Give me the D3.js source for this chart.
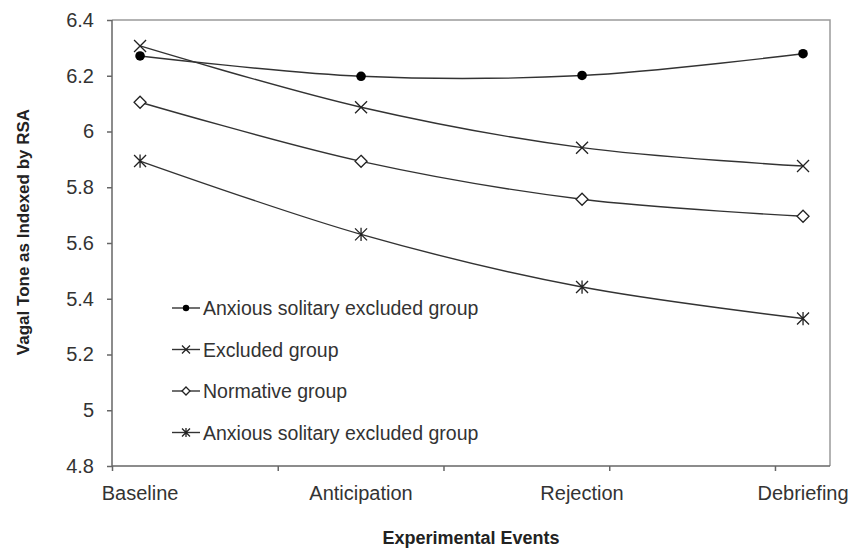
<!DOCTYPE html>
<html>
<head>
<meta charset="utf-8">
<script src="https://cdn.jsdelivr.net/npm/d3@7"></script>
<style>
  body { margin: 0; background: #fff; overflow: hidden; }
  svg { font-family: "Liberation Sans", Arial, sans-serif; display: block; }
</style>
</head>
<body>
<div id="chart"></div>
<script>
const categories = ["Baseline", "Anticipation", "Rejection", "Debriefing"];
const anxiousDot = [6.271, 6.198, 6.201, 6.279];
const excluded = [6.307, 6.087, 5.942, 5.876];
const normative = [6.105, 5.893, 5.757, 5.696];
const anxiousStar = [5.894, 5.631, 5.442, 5.329];
const seriesNames = [
  "Anxious solitary excluded group",
  "Excluded group",
  "Normative group",
  "Anxious solitary excluded group"
];
const yTicks = [4.8, 5, 5.2, 5.4, 5.6, 5.8, 6, 6.2, 6.4];
const xTickValues = [0.873, 1.623, 2.373, 3.123, 3.873];

const width = 850, height = 550;
const margins = { top: 20, right: 20, bottom: 84, left: 112 };
const innerWidth = width - margins.left - margins.right;
const innerHeight = height - margins.top - margins.bottom;

const series = [
  { name: seriesNames[0], values: anxiousDot, marker: "dot" },
  { name: seriesNames[1], values: excluded, marker: "cross" },
  { name: seriesNames[2], values: normative, marker: "diamond" },
  { name: seriesNames[3], values: anxiousStar, marker: "star" }
];

const svg = d3.select("#chart").append("svg")
  .attr("width", width)
  .attr("height", height);

const mainG = svg.append("g")
  .attr("transform", `translate(${margins.left},${margins.top})`);

const x = d3.scaleLinear().domain([0.873, 4.122]).range([0, innerWidth]);
const y = d3.scaleLinear().domain([4.8, 6.4]).range([innerHeight, 0]);

// frame (top/right lighter)
mainG.append("path")
  .attr("d", `M0,0H${innerWidth}V${innerHeight}`)
  .attr("fill", "none")
  .attr("stroke", "#9a9a9a")
  .attr("stroke-width", 1.5);

// Y axis
const yAxisG = mainG.append("g")
  .call(d3.axisLeft(y).tickValues(yTicks).tickSize(5).tickPadding(13)
    .tickFormat(d3.format("~g")));
yAxisG.select(".domain").attr("stroke", "#666").attr("stroke-width", 1.5)
  .attr("d", `M0,0V${innerHeight}`);
yAxisG.selectAll(".tick line").attr("stroke", "#666").attr("stroke-width", 1.5);
yAxisG.selectAll(".tick text")
  .attr("font-size", "20px")
  .attr("fill", "#333")
  .attr("font-family", "Liberation Sans, Arial, sans-serif");

// X axis (ticks between categories)
const xAxisG = mainG.append("g")
  .attr("transform", `translate(0,${innerHeight})`)
  .call(d3.axisBottom(x).tickValues(xTickValues).tickSize(5));
xAxisG.selectAll(".tick text").remove();
xAxisG.select(".domain").attr("stroke", "#666").attr("stroke-width", 1.5)
  .attr("d", `M0,0H${innerWidth}`);
xAxisG.selectAll(".tick line").attr("stroke", "#666").attr("stroke-width", 1.5);

// category labels
mainG.append("g").selectAll("text")
  .data(categories)
  .join("text")
  .attr("x", (d, i) => x(i + 1))
  .attr("y", innerHeight + 34)
  .attr("text-anchor", "middle")
  .attr("font-size", "20px")
  .attr("fill", "#333")
  .text((d) => d);

// axis titles
svg.append("text")
  .attr("x", 471)
  .attr("y", 544)
  .attr("text-anchor", "middle")
  .attr("font-size", "18px")
  .attr("font-weight", "bold")
  .attr("fill", "#222")
  .text("Experimental Events");

svg.append("text")
  .attr("transform", "translate(29,232) rotate(-90)")
  .attr("text-anchor", "middle")
  .attr("font-size", "17px")
  .attr("font-weight", "bold")
  .attr("fill", "#222")
  .text("Vagal Tone as Indexed by RSA");

// lines
const line = d3.line()
  .x((d, i) => x(i + 1))
  .y((d) => y(d))
  .curve(d3.curveCatmullRom.alpha(0.5));

const linesG = mainG.append("g");
linesG.selectAll("path")
  .data(series)
  .join("path")
  .attr("d", (d) => line(d.values))
  .attr("fill", "none")
  .attr("stroke", "#333")
  .attr("stroke-width", 1.4);

function drawMarker(g, type, s) {
  const c = "#222";
  if (type === "dot") {
    g.append("circle").attr("r", s * 0.8).attr("fill", "#000");
  } else if (type === "cross") {
    g.append("path")
      .attr("d", `M${-s},${-s}L${s},${s}M${-s},${s}L${s},${-s}`)
      .attr("stroke", c).attr("stroke-width", 1.3).attr("fill", "none");
  } else if (type === "diamond") {
    g.append("path")
      .attr("d", `M0,${-s}L${s},0L0,${s}L${-s},0Z`)
      .attr("stroke", c).attr("stroke-width", 1.3).attr("fill", "#fff");
  } else if (type === "star") {
    g.append("path")
      .attr("d", `M${-s},${-s}L${s},${s}M${-s},${s}L${s},${-s}M0,${-s * 1.1}L0,${s * 1.1}`)
      .attr("stroke", c).attr("stroke-width", 1.3).attr("fill", "none");
  }
}

const markersG = mainG.append("g");
series.forEach((sr) => {
  sr.values.forEach((v, i) => {
    const g = markersG.append("g")
      .attr("transform", `translate(${x(i + 1)},${y(v)})`);
    drawMarker(g, sr.marker, 6);
  });
});

// legend
const legendG = svg.append("g").attr("transform", "translate(172,308)");
series.forEach((sr, i) => {
  const row = legendG.append("g").attr("transform", `translate(0,${i * 41.5})`);
  row.append("line")
    .attr("x1", 0).attr("x2", 28)
    .attr("stroke", "#333").attr("stroke-width", 1.4);
  const m = row.append("g").attr("transform", "translate(14,0)");
  drawMarker(m, sr.marker, 4);
  row.append("text")
    .attr("x", 31)
    .attr("y", 7)
    .attr("font-size", "19.5px")
    .attr("fill", "#333")
    .text(sr.name);
});
</script>
</body>
</html>
